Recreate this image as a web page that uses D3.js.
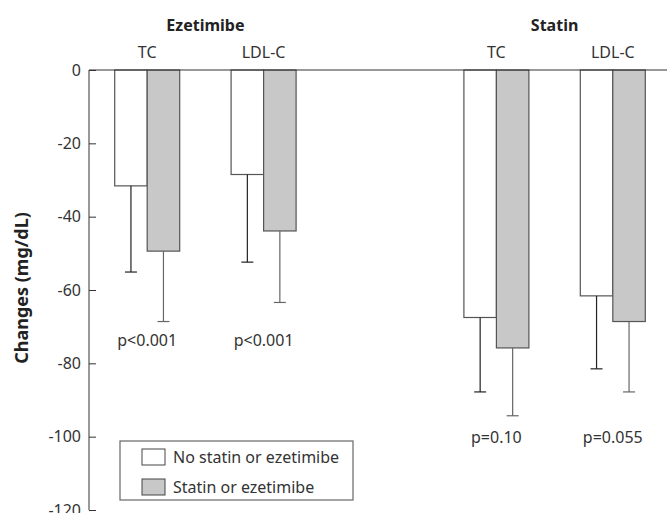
<!DOCTYPE html>
<html>
<head>
<meta charset="utf-8">
<script src="https://cdn.jsdelivr.net/npm/d3@7"></script>
<style>
  body { margin: 0; background: #fff; }
  text { font-family: "Noto Sans", "DejaVu Sans", sans-serif; fill: #333; }
  .bold { font-family: "Noto Sans", "Open Sans", sans-serif; font-weight: bold; fill: #222; }
</style>
</head>
<body>
<div id="chart"></div>
<script>
// Chart values
const slots = ["E-TC", "E-LDL", "gap", "S-TC", "S-LDL"];
const measures = ["TC", "LDL-C", "", "TC", "LDL-C"];
const noStatin = [-31.6, -28.5, null, -67.5, -61.6];
const noStatinErr = [-55.1, -52.4, null, -87.8, -81.5];
const statin = [-49.4, -43.9, null, -75.8, -68.6];
const statinErr = [-68.6, -63.4, null, -94.3, -87.8];
const pValues = ["p<0.001", "p<0.001", "", "p=0.10", "p=0.055"];
const yTicks = [0, -20, -40, -60, -80, -100, -120];
const seriesNames = ["No statin or ezetimibe", "Statin or ezetimibe"];

const width = 667;
const height = 513;
const margin = {left: 89, right: -4, top: 70, bottom: 3};

const svg = d3.select("#chart")
  .append("svg")
  .attr("width", width)
  .attr("height", height);

const y = d3.scaleLinear()
  .domain([0, -120])
  .range([margin.top, height - margin.bottom]);

const x = d3.scaleBand()
  .domain(slots)
  .range([margin.left, width - margin.right])
  .padding(0);

const bw = 32.5; // bar width

// y axis (ticks point inward)
const yAxis = svg.append("g")
  .attr("transform", `translate(${margin.left},0)`)
  .call(d3.axisRight(y).tickValues(yTicks).tickSize(7).tickFormat(""));
yAxis.select(".domain").remove();
yAxis.selectAll(".tick line").attr("stroke", "#333");

svg.append("line")
  .attr("x1", margin.left).attr("x2", margin.left)
  .attr("y1", y(0)).attr("y2", y(-120))
  .attr("stroke", "#333");

svg.append("g").selectAll("text")
  .data(yTicks)
  .enter()
  .append("text")
  .attr("x", 81)
  .attr("y", d => y(d))
  .attr("dy", "0.35em")
  .attr("text-anchor", "end")
  .attr("font-size", "16px")
  .text(d => d === 0 ? "0" : "-" + Math.abs(d));

// bars
const idx = d3.range(slots.length).filter(i => noStatin[i] !== null);

function center(i) { return x(slots[i]) + x.bandwidth() / 2; }

svg.append("g").selectAll("rect")
  .data(idx)
  .enter()
  .append("rect")
  .attr("x", i => center(i) - bw)
  .attr("y", y(0))
  .attr("width", bw)
  .attr("height", i => y(noStatin[i]) - y(0))
  .attr("fill", "#fff")
  .attr("stroke", "#555")
  .attr("stroke-width", 1.2);

svg.append("g").selectAll("rect")
  .data(idx)
  .enter()
  .append("rect")
  .attr("x", i => center(i))
  .attr("y", y(0))
  .attr("width", bw)
  .attr("height", i => y(statin[i]) - y(0))
  .attr("fill", "#c8c8c9")
  .attr("stroke", "#555")
  .attr("stroke-width", 1.2);

// error bars
function errorBars(vals, errs, offset, color) {
  const g = svg.append("g").attr("stroke", color).attr("stroke-width", 1.2);
  g.selectAll(".v")
    .data(idx)
    .enter()
    .append("line")
    .attr("x1", i => center(i) + offset).attr("x2", i => center(i) + offset)
    .attr("y1", i => y(vals[i])).attr("y2", i => y(errs[i]));
  g.selectAll(".c")
    .data(idx)
    .enter()
    .append("line")
    .attr("x1", i => center(i) + offset - 6).attr("x2", i => center(i) + offset + 6)
    .attr("y1", i => y(errs[i])).attr("y2", i => y(errs[i]));
}
errorBars(noStatin, noStatinErr, -bw / 2, "#222");
errorBars(statin, statinErr, bw / 2, "#666");

// top line
svg.append("line")
  .attr("x1", margin.left).attr("x2", width)
  .attr("y1", y(0)).attr("y2", y(0))
  .attr("stroke", "#333")
  .attr("stroke-width", 1.2);

// measure labels
svg.append("g").selectAll("text")
  .data(idx)
  .enter()
  .append("text")
  .attr("x", i => center(i))
  .attr("y", 58)
  .attr("text-anchor", "middle")
  .attr("font-size", "16px")
  .text(i => measures[i]);

// p values
svg.append("g").selectAll("text")
  .data(idx)
  .enter()
  .append("text")
  .attr("x", i => center(i))
  .attr("y", i => i < 2 ? 346 : 443)
  .attr("text-anchor", "middle")
  .attr("font-size", "16px")
  .text(i => pValues[i]);

// group titles
svg.append("text").attr("class", "bold")
  .attr("x", (center(0) + center(1)) / 2).attr("y", 31)
  .attr("text-anchor", "middle").attr("font-size", "16px")
  .text("Ezetimibe");
svg.append("text").attr("class", "bold")
  .attr("x", (center(3) + center(4)) / 2).attr("y", 31)
  .attr("text-anchor", "middle").attr("font-size", "16px")
  .text("Statin");

// y label
svg.append("text").attr("class", "bold")
  .attr("transform", "translate(28,288) rotate(-90)")
  .attr("text-anchor", "middle")
  .attr("font-size", "18px")
  .text("Changes (mg/dL)");

// legend
const legend = svg.append("g");
legend.append("rect")
  .attr("x", 120).attr("y", 441)
  .attr("width", 233).attr("height", 59)
  .attr("fill", "#fff").attr("stroke", "#666").attr("stroke-width", 1.2);
const fills = ["#fff", "#c8c8c9"];
legend.selectAll(".sw")
  .data(seriesNames)
  .enter()
  .append("rect")
  .attr("x", 142)
  .attr("y", (d, i) => 449 + i * 30)
  .attr("width", 23).attr("height", 16)
  .attr("fill", (d, i) => fills[i])
  .attr("stroke", "#444").attr("stroke-width", 1);
legend.selectAll(".lt")
  .data(seriesNames)
  .enter()
  .append("text")
  .attr("x", 173)
  .attr("y", (d, i) => 457 + i * 30)
  .attr("dy", "0.35em")
  .attr("font-size", "16px")
  .text(d => d);
</script>
</body>
</html>
